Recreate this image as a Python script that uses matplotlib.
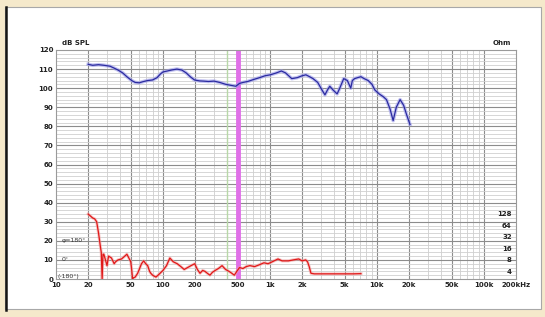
import matplotlib
matplotlib.use("Agg")
import matplotlib.pyplot as plt
from matplotlib.patches import Rectangle
from matplotlib.lines import Line2D
from matplotlib.ticker import FixedLocator, NullFormatter

# SPL response (blue)
spl_freq = [20, 22, 25, 28, 32, 35, 38, 42, 46, 51, 55, 60, 66, 72, 80, 88,
            95, 100, 110, 120, 135, 150, 165, 180, 197, 220, 240, 266, 300,
            340, 387, 430, 480, 520, 560, 620, 700, 800, 900, 1010, 1150,
            1280, 1400, 1600, 1800, 2000, 2170, 2350, 2530, 2800, 3000, 3270,
            3450, 3630, 3900, 4250, 4500, 4900, 5300, 5700, 5900, 6200, 6600,
            7100, 7600, 8300, 9000, 9600, 10500, 11500, 12300, 13300, 14200,
            15200, 16500, 17800, 19000, 20400]
spl_db = [112.5, 112, 112.3, 112, 111.5, 110.5, 109.5, 108, 106, 104, 103,
          102.8, 103.5, 104, 104.3, 105.5, 107.5, 108.5, 109, 109.5, 110,
          109.5, 108, 106, 104.3, 103.8, 103.7, 103.5, 103.7, 103, 102, 101.5,
          101, 102.5, 103, 103.5, 104.5, 105.5, 106.5, 107, 108, 109, 108, 105,
          105.5, 106.5, 107, 106, 105, 103, 100, 96.5, 99, 101, 99, 97, 100,
          105, 104, 100, 104, 105, 105.5, 106, 105, 104, 102, 99, 97, 95.5, 94,
          89, 83, 90, 94, 91, 86, 81]

# lower red trace
red_freq = [20, 21, 22, 23, 24, 25, 26, 26.5, 27, 27.5, 28, 29, 30, 31, 33,
            35, 36, 38, 41, 44, 46, 48, 50, 51, 52, 52.5, 55, 58, 60, 63, 66,
            69, 72, 75, 77, 80, 86, 92, 100, 108, 116, 125, 136, 147, 158, 170,
            183, 198, 210, 222, 235, 247, 260, 275, 290, 308, 330, 357, 385,
            415, 440, 465, 490, 520, 560, 600, 650, 720, 800, 880, 960, 1050,
            1190, 1300, 1490, 1650, 1860, 2000, 2160, 2250, 2330, 2420, 2600,
            3000, 4000, 5000, 6000, 7100]
red_db = [34, 33, 32, 31.5, 30, 24, 17, 14, 0, 13, 13, 10, 7, 12, 11, 8, 9,
          10, 10.5, 12, 13, 11, 9, 5, 0, 0.5, 1, 3, 5, 8, 9.5, 8, 7, 4, 3, 2,
          1, 2.5, 4.5, 7, 11, 9, 8, 6.5, 5, 6, 7, 8, 5, 3, 4.5, 4, 3, 2, 3.5,
          4.5, 5.5, 7, 5, 4, 3, 2, 4, 6, 5.5, 6.5, 7, 6.5, 7.5, 8.5, 8, 9, 10.5,
          9.5, 9.5, 10, 10.5, 9.5, 10, 9, 6.5, 3, 2.7, 2.7, 2.7, 2.7, 2.7, 2.8]
assert len(spl_freq) == len(spl_db) and len(red_freq) == len(red_db)

x_ticks = [10, 20, 50, 100, 200, 500, 1000, 2000, 5000, 10000, 20000,
           50000, 100000, 200000]
x_labels = ["10", "20", "50", "100", "200", "500", "1k", "2k", "5k", "10k",
            "20k", "50k", "100k", "200kHz"]
db_ticks = list(range(0, 121, 10))
ohm_ticks = [4, 8, 16, 32, 64, 128]
marker_freq = 500
green_freq = 400

fig = plt.figure(figsize=(5.45, 3.17), dpi=100, facecolor="#f5e9cb")
W, H = 545, 317

# white card with dark left edge (behind the axes)
fig.patches.append(Rectangle((5 / W, 1 - 309 / H), 536 / W, 302 / H,
                             transform=fig.transFigure, facecolor="white",
                             edgecolor="#a8a8a8", lw=0.8, zorder=-2))
fig.lines.append(Line2D([5.5 / W, 5.5 / W], [1 - 310 / H, 1 - 7 / H],
                        transform=fig.transFigure, color="#151515", lw=1.8,
                        zorder=-1))

ax = fig.add_axes([56 / W, 1 - 279 / H, 460 / W, 229 / H])
ax.set_facecolor("white")
ax.set_xscale("log")
ax.set_xlim(10, 200000)
ax.set_ylim(0, 120)

# grid
minors = [m * 10 ** e for e in range(1, 6) for m in (3, 4, 6, 7, 8, 9)]
for f in minors:
    if f < 200000:
        ax.axvline(f, color="#cdcdcd", lw=0.6, zorder=1)
for f in x_ticks[1:-1]:
    ax.axvline(f, color="#8c8c8c", lw=0.8, zorder=1)
for v in range(2, 120, 2):
    if v % 10:
        ax.axhline(v, color="#d0d0d0", lw=0.6, zorder=1)
for v in db_ticks[1:-1]:
    ax.axhline(v, color="#8c8c8c", lw=0.8, zorder=1)

ax.axvline(green_freq, color="#b8d8a8", lw=1.0, zorder=2)
ax.axvline(marker_freq, color="#e070e8", lw=3.5, zorder=2)

# traces with a soft halo like the blurry original
ax.plot(spl_freq, spl_db, color="#9a9ae8", lw=2.6, alpha=0.6, zorder=3)
ax.plot(spl_freq, spl_db, color="#2a2aa0", lw=0.9, zorder=4)
ax.plot(red_freq, red_db, color="#f2a0a0", lw=2.2, alpha=0.6, zorder=3)
ax.plot(red_freq, red_db, color="#e01818", lw=0.9, zorder=4)

for s in ax.spines.values():
    s.set_color("#9a9a9a")
    s.set_linewidth(0.8)

fs = 5
ax.xaxis.set_major_locator(FixedLocator(x_ticks))
ax.xaxis.set_minor_formatter(NullFormatter())
ax.set_xticklabels(x_labels, fontsize=fs, fontweight="bold", color="#222222")
ax.set_yticks(db_ticks)
ax.set_yticklabels([str(v) for v in db_ticks], fontsize=fs,
                   fontweight="bold", color="#222222")
ax.tick_params(axis="both", which="both", length=0, pad=2)

# right ohm scale drawn inside the plot
rax = ax.twinx()
rax.set_yscale("log", base=2)
rax.set_ylim(2 ** (2 - 8 / 11.4), 2 ** (2 + 221 / 11.4))
rax.yaxis.set_major_locator(FixedLocator(ohm_ticks))
rax.yaxis.set_minor_locator(FixedLocator([]))
rax.set_yticklabels([str(v) for v in ohm_ticks], fontsize=fs,
                    fontweight="bold", color="#222222")
rax.tick_params(axis="y", length=0, pad=-3)
for lbl in rax.get_yticklabels():
    lbl.set_ha("right")
for s in rax.spines.values():
    s.set_visible(False)

ax.text(0.012, 1.018, "dB SPL", transform=ax.transAxes, fontsize=fs,
        fontweight="bold", ha="left", va="bottom", color="#222222")
ax.text(0.99, 1.018, "Ohm", transform=ax.transAxes, fontsize=fs,
        fontweight="bold", ha="right", va="bottom", color="#222222")

tr = ax.get_yaxis_transform()
ax.text(0.012, 20, "φ=180°", transform=tr, fontsize=4.5, ha="left",
        va="center", color="#333333")
ax.text(0.012, 10, "0°", transform=tr, fontsize=4.5, ha="left",
        va="center", color="#333333")
ax.text(0.004, 1.5, "(-180°)", transform=tr, fontsize=4.5, ha="left",
        va="center", color="#333333")

fig.savefig("out.png", dpi=100, facecolor=fig.get_facecolor())
